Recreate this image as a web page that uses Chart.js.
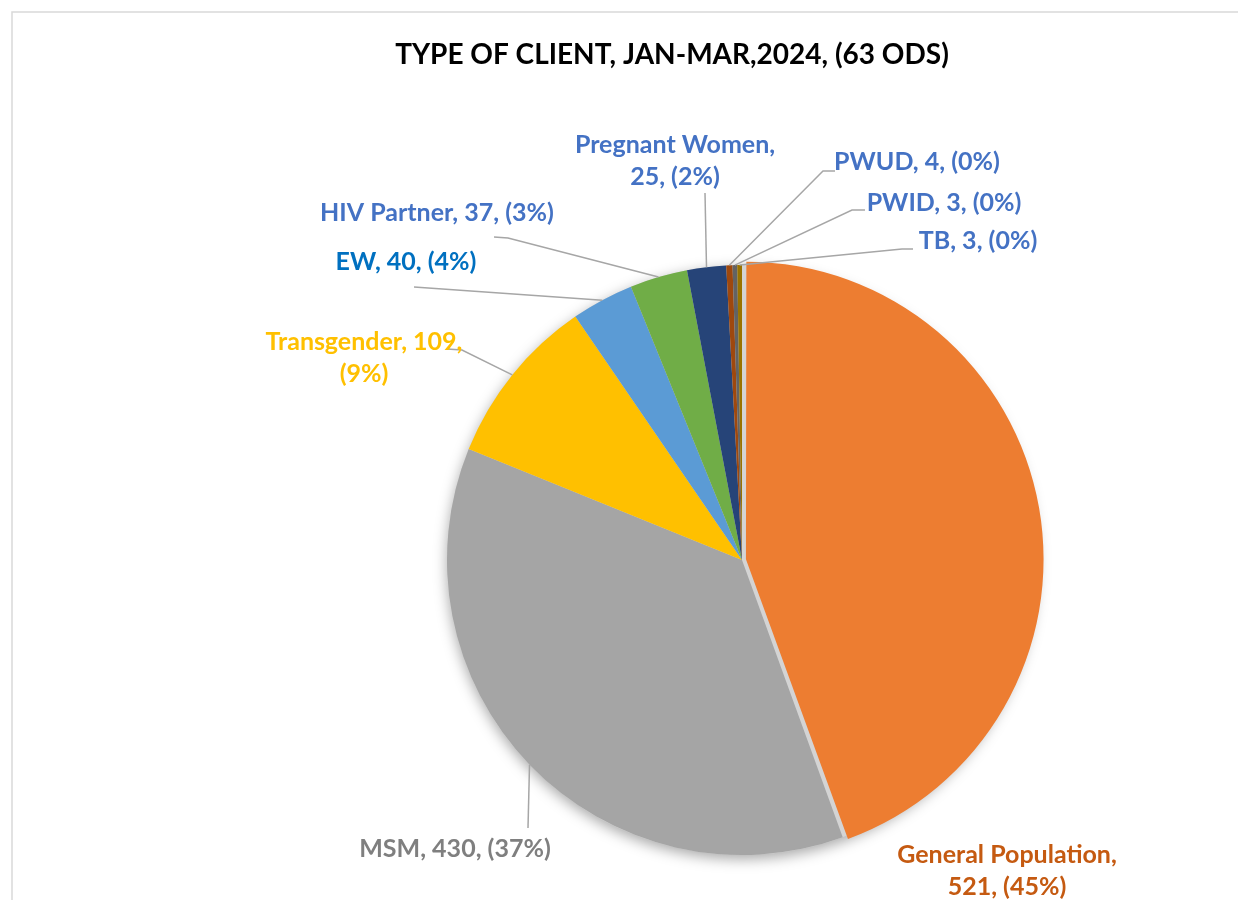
<!DOCTYPE html>
<html>
<head>
<meta charset="utf-8">
<script src="https://cdn.jsdelivr.net/npm/chart.js@4.4.1/dist/chart.umd.min.js"></script>
<style>
  html, body { margin: 0; padding: 0; background: #fff; }
  #wrap { width: 1238px; height: 900px; position: relative; }
</style>
</head>
<body>
<div id="wrap"><canvas id="clientPie" width="1238" height="900"></canvas></div>
<script>
// data
const categories = ["General Population", "MSM", "Transgender", "EW", "HIV Partner",
  "Pregnant Women", "PWUD", "PWID", "TB"];
const clientCounts = [521, 430, 109, 40, 37, 25, 4, 3, 3];
const percentText = ["45%", "37%", "9%", "4%", "3%", "2%", "0%", "0%", "0%"];

const sliceColors = ["#ED7D31", "#A5A5A5", "#FFC000", "#5B9BD5", "#70AD47",
  "#264478", "#9E480E", "#636363", "#997300"];
const labelColors = ["#C55A11", "#7F7F7F", "#FFC000", "#0070C0", "#4472C4",
  "#4472C4", "#4472C4", "#4472C4", "#4472C4"];

// label placement (text centre, line break, leader path) - layout only
const labelLayout = [
  { x: 1007, y: 855, breakAfter: 0, leader: null },
  { x: 455, y: 849, breakAfter: -1, leader: [[528, 828]] },
  { x: 364, y: 342, breakAfter: 1, leader: [[462, 350], [447, 349]] },
  { x: 406, y: 262, breakAfter: -1, leader: [[414, 287]] },
  { x: 437, y: 213, breakAfter: -1, leader: [[508, 238], [494, 237]] },
  { x: 675, y: 145, breakAfter: 0, leader: [[705, 193]] },
  { x: 917, y: 162, breakAfter: -1, leader: [[823, 171], [835, 171]] },
  { x: 944, y: 203, breakAfter: -1, leader: [[852, 210], [865, 210]] },
  { x: 978, y: 241, breakAfter: -1, leader: [[902, 249], [913, 249]] }
];

const chartTitle = "TYPE OF CLIENT, JAN-MAR,2024, (63 ODS)";
const labelFont = "bold 25px Lato, 'Open Sans', sans-serif";
const lineGap = 32;

const decorPlugin = {
  id: "decor",
  beforeDatasetsDraw(chart) {
    // soft shadow disc under the pie (shows through the exploded gap)
    const ctx = chart.ctx;
    const arc = chart.getDatasetMeta(0).data[0];
    if (!arc) return;
    ctx.save();
    ctx.beginPath();
    ctx.arc(arc.x, arc.y, arc.outerRadius, 0, Math.PI * 2);
    ctx.fillStyle = "#d4d4d4";
    ctx.shadowColor = "rgba(0,0,0,0.35)";
    ctx.shadowBlur = 14;
    ctx.shadowOffsetY = 4;
    ctx.fill();
    ctx.restore();
  },
  afterDatasetsDraw(chart) {
    const ctx = chart.ctx;
    const arcs = chart.getDatasetMeta(0).data;
    ctx.save();
    arcs.forEach((arc, i) => {
      const lay = labelLayout[i];
      const mid = (arc.startAngle + arc.endAngle) / 2;
      const px = arc.x + Math.cos(mid) * arc.outerRadius;
      const py = arc.y + Math.sin(mid) * arc.outerRadius;

      if (lay.leader) {
        ctx.beginPath();
        ctx.moveTo(px, py);
        lay.leader.forEach((p) => ctx.lineTo(p[0], p[1]));
        ctx.strokeStyle = "#A6A6A6";
        ctx.lineWidth = 1.5;
        ctx.stroke();
      }

      const parts = [categories[i], String(clientCounts[i]), "(" + percentText[i] + ")"];
      let lines;
      if (lay.breakAfter >= 0) {
        lines = [parts.slice(0, lay.breakAfter + 1).join(", ") + ",",
                 parts.slice(lay.breakAfter + 1).join(", ")];
      } else {
        lines = [parts.join(", ")];
      }
      ctx.font = labelFont;
      ctx.fillStyle = labelColors[i];
      ctx.textAlign = "center";
      ctx.textBaseline = "middle";
      lines.forEach((t, k) => ctx.fillText(t, lay.x, lay.y + k * lineGap));
    });
    ctx.restore();
  },
  afterDraw(chart) {
    const ctx = chart.ctx;
    ctx.save();
    // chart frame
    ctx.strokeStyle = "#D9D9D9";
    ctx.lineWidth = 1.5;
    ctx.beginPath();
    ctx.moveTo(12, 905);
    ctx.lineTo(12, 12);
    ctx.lineTo(1245, 12);
    ctx.stroke();
    // title
    ctx.font = "bold 28px Lato, 'Open Sans', sans-serif";
    ctx.fillStyle = "#000";
    ctx.textAlign = "center";
    ctx.textBaseline = "middle";
    ctx.fillText(chartTitle, 672, 55);
    ctx.restore();
  }
};

new Chart(document.getElementById("clientPie"), {
  type: "pie",
  data: {
    labels: categories,
    datasets: [{
      data: clientCounts,
      backgroundColor: sliceColors,
      borderWidth: 0,
      // chart.js divides arc offset by 4
      offset: [16, 0, 0, 0, 0, 0, 0, 0, 0]
    }]
  },
  options: {
    responsive: false,
    animation: false,
    radius: 295,
    layout: { padding: { left: 260, right: 14, top: 230, bottom: 10 } },
    plugins: {
      legend: { display: false },
      tooltip: { enabled: false },
      title: { display: false }
    }
  },
  plugins: [decorPlugin]
});
</script>
</body>
</html>
